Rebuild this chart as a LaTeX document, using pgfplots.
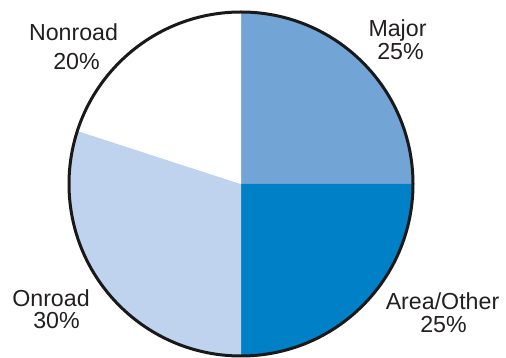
\documentclass[border=0pt]{standalone}
\usepackage{pgfplots}
\usepackage{pgfplotstable}
\pgfplotsset{compat=1.18}
\usepackage{fontspec}
\setmainfont{Liberation Sans}
\definecolor{slice0}{RGB}{114,165,214}
\definecolor{slice1}{RGB}{0,128,198}
\definecolor{slice2}{RGB}{192,211,238}
\definecolor{slice3}{RGB}{255,255,255}
\definecolor{txt}{RGB}{35,31,32}
\pgfplotstableread{
label pct
Major 25
Area/Other 25
Onroad 30
Nonroad 20
}\piedata
\begin{document}
\begin{tikzpicture}
\begin{axis}[
  scale only axis, width=506bp, height=358bp,
  xmin=0, xmax=506, ymin=0, ymax=358,
  hide axis, clip=false,
]
\pgfmathsetmacro{\start}{90}
\pgfplotsforeachungrouped \i in {0,...,3}{%
  \pgfplotstablegetelem{\i}{pct}\of\piedata
  \pgfmathsetmacro{\stop}{\start-\pgfplotsretval*3.6}%
  \edef\temp{\noexpand\fill[slice\i] (axis cs:241,174) -- ++(\start:172bp) arc[start angle=\start, end angle=\stop, radius=172bp] -- cycle;}%
  \temp
  \global\let\start\stop
}
\draw[black!90, line width=3bp] (axis cs:241,174) circle[radius=172bp];
\begin{scope}[every node/.style={anchor=base, text=txt, font=\fontsize{23.2bp}{27bp}\selectfont, inner sep=0pt}]
\node at (axis cs:73.5,317) {Nonroad};
\node at (axis cs:76.5,288) {20\%};
\node at (axis cs:397.5,321) {Major};
\node at (axis cs:400.5,298) {25\%};
\node at (axis cs:51,51.3) {Onroad};
\node at (axis cs:56.5,29.7) {30\%};
\node at (axis cs:442.5,48) {Area/Other};
\node at (axis cs:443.5,25.7) {25\%};
\end{scope}
\end{axis}
\useasboundingbox (0,0) rectangle (506bp,358bp);
\end{tikzpicture}
\end{document}
